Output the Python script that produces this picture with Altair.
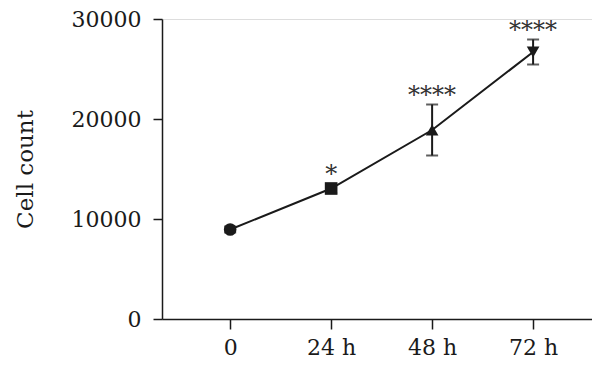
import altair as alt
import pandas as pd

hours = [0, 24, 48, 72]
cell_count = [8950, 13050, 18900, 26700]
err = [300, 450, 2550, 1250]
shapes = ["circle", "square", "triangle-up", "triangle-down"]
stars = ["", "*", "****", "****"]

df = pd.DataFrame({
    "hours": hours,
    "count": cell_count,
    "lo": [c - e for c, e in zip(cell_count, err)],
    "hi": [c + e for c, e in zip(cell_count, err)],
    "shape": shapes,
    "stars": stars,
})

FONT = "DejaVu Serif"
INK = "#1a1a1a"

x = alt.X("hours:Q", scale=alt.Scale(domain=[-16.2, 86], nice=False, zero=False),
          axis=alt.Axis(values=hours, title=None,
                        labelExpr="datum.value == 0 ? '0' : datum.value + ' h'",
                        labelFont=FONT, labelFontSize=22, labelColor=INK,
                        labelPadding=8, tickSize=10, tickWidth=1.5, tickColor=INK,
                        domainColor=INK, domainWidth=1.5, grid=False))
y = alt.Y("count:Q", scale=alt.Scale(domain=[0, 30000], nice=False),
          axis=alt.Axis(values=[0, 10000, 20000, 30000], format="d",
                        title="Cell count", titleFont=FONT, titleFontSize=23,
                        titleFontWeight="normal", titleColor=INK,
                        titleX=-130, titleY=150, titleAngle=-90,
                        titleAlign="center", titleBaseline="alphabetic",
                        labelFont=FONT, labelFontSize=22, labelColor=INK,
                        labelPadding=12, tickSize=9, tickWidth=1.5, tickColor=INK,
                        domainColor=INK, domainWidth=1.5, grid=False))

base = alt.Chart(df)

line = base.mark_line(color=INK, strokeWidth=2).encode(x=x, y=y)
err_rule = base.mark_rule(color=INK, strokeWidth=2).encode(
    x="hours:Q", y="lo:Q", y2="hi:Q")
cap_hi = base.mark_tick(color=INK, orient="horizontal", size=12, thickness=2).encode(
    x="hours:Q", y="hi:Q")
cap_lo = base.mark_tick(color=INK, orient="horizontal", size=12, thickness=2).encode(
    x="hours:Q", y="lo:Q")
points = base.mark_point(filled=True, opacity=1, color=INK).encode(
    x="hours:Q", y="count:Q",
    shape=alt.Shape("shape:N", scale=alt.Scale(domain=shapes, range=shapes), legend=None),
    size=alt.value(160))
text = base.mark_text(font=FONT, fontSize=24, color="#333333", baseline="alphabetic",
                      align="center", dy=-2).encode(
    x="hours:Q", y="hi:Q", text="stars:N")

chart = alt.layer(err_rule, cap_hi, cap_lo, line, points, text).properties(
    width=430, height=300,
    autosize=alt.AutoSizeParams(type="none"),
    padding={"left": 154, "top": 11, "right": 0, "bottom": 39},
).configure_view(stroke=None).configure(background="white")

chart.save("out.html", embed_options={"renderer": "svg", "actions": False})
